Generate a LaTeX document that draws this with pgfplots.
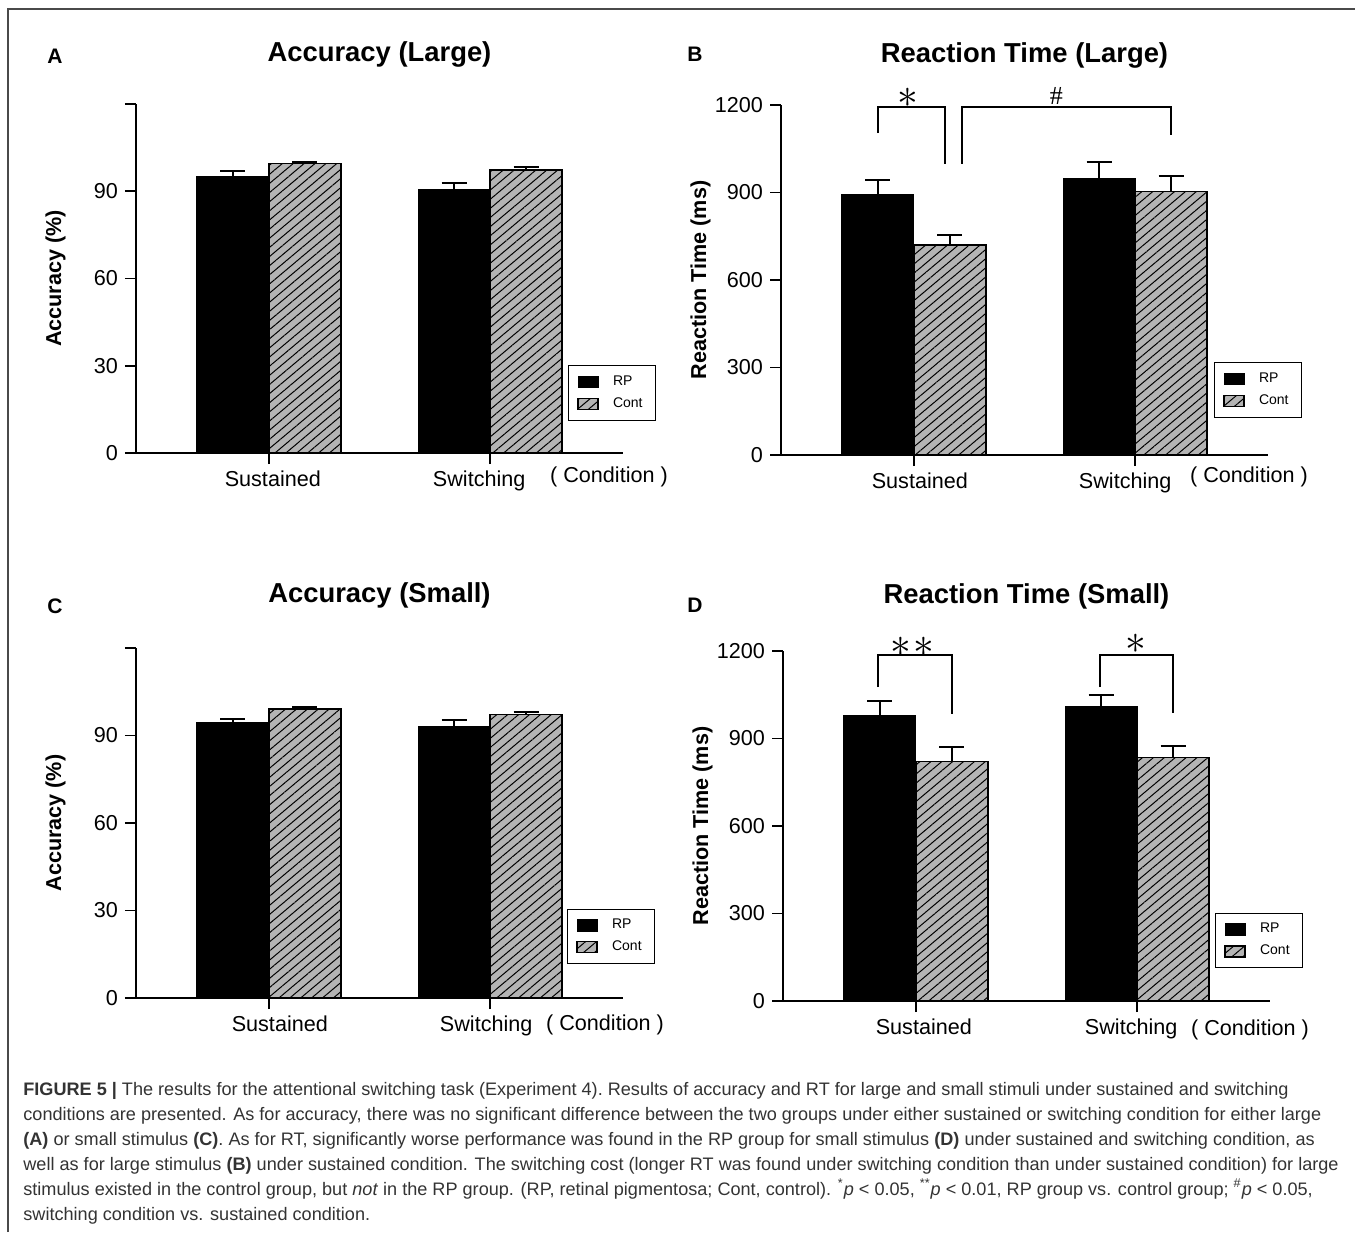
\documentclass[border=0pt]{standalone}
\usepackage{fontspec}
\setmainfont{Liberation Sans}
\newfontfamily\seriffont{Liberation Serif}
\usepackage{pgfplots}
\pgfplotsset{compat=1.18}
\usepackage{pgfplotstable}
\usetikzlibrary{patterns.meta}
\definecolor{contgray}{HTML}{B4B4B4}
\definecolor{capgray}{HTML}{333333}
\definecolor{framegray}{HTML}{4A4A4A}

\pgfplotstableread{
x RP RPe Cont Conte
0 94.9 2.0 99.5 0.55
1 90.6 2.2 97.4 1.0
}\dataA
\pgfplotstableread{
x RP RPe Cont Conte
0 892 52 721 32
1 949 57 903 53
}\dataB
\pgfplotstableread{
x RP RPe Cont Conte
0 94.5 1.3 99.0 0.7
1 93.1 2.1 97.2 0.8
}\dataC
\pgfplotstableread{
x RP RPe Cont Conte
0 980 49 821 50
1 1011 37 835 40
}\dataD

\newcommand{\bigast}{\fontsize{21}{21}\selectfont$\ast$}

\pgfplotsset{
  panel/.style={
    scale only axis, width=243.5pt, height=175pt,
    xmin=-0.6, xmax=1.6, ymin=0,
    axis x line*=bottom, axis y line*=left,
    axis line style={line width=1.3pt, -},
    axis on top,
    xtick={0,1}, tick align=outside, major tick length=5.5pt,
    tick style={line width=0.8pt, black},
    ybar=0pt, bar width=36pt,
    clip=false,
    tick label style={font=\fontsize{10.8}{12}\selectfont},
    ylabel style={at={(axis description cs:-0.165,0.5)}, anchor=center, font=\bfseries\fontsize{10.8}{12}\selectfont},
    title style={at={(axis description cs:0.5,1)}, anchor=base, font=\bfseries\fontsize{13.7}{16}\selectfont},
    legend style={anchor=south west, draw=black, line width=0.5pt, font=\fontsize{7}{8}\selectfont, inner xsep=4.5pt, inner ysep=3pt, row sep=0.5pt, cells={anchor=west},
      /tikz/every odd column/.append style={column sep=5pt}},
    legend image code/.code={\draw[#1] (0pt,-2.75pt) rectangle (10pt,2.75pt);},
    error bars/y dir=plus, error bars/y explicit,
    error bars/error bar style={line width=1pt, black},
    error bars/error mark options={rotate=90, mark size=6.25pt, line width=1pt, black},
  },
  rpbar/.style={fill=black, draw=black, line width=0.6pt},
  contbar/.style={fill=contgray, draw=black, line width=0.8pt, postaction={pattern={Lines[angle=40,distance=3.5pt,line width=0.5pt]}}},
  acc/.style={ymax=120, ytick={0,30,60,90,120}, yticklabels={0,30,60,90,{}}, ylabel={Accuracy (\%)}},
  rt/.style={ymax=1200, ytick={0,300,600,900,1200}, yticklabels={0,300,600,900,1200}, ylabel={Reaction Time (ms)}},
}

\begin{document}
\begin{tikzpicture}
\path[use as bounding box] (0pt,0pt) rectangle (677.5pt,-616pt);
\fill[white] (0pt,0pt) rectangle (677.5pt,-616pt);
\draw[framegray, line width=0.8pt] (4pt,-616pt) -- (4pt,-4.5pt) -- (677.5pt,-4.5pt);

% Panel A
\begin{axis}[panel, acc, at={(68pt,-226.5pt)}, anchor=south west, height=174.5pt,
  title={Accuracy (Large)}, title style={yshift=15.5pt},
  xticklabels={{\hspace*{4pt}Sustained},{Switching\hspace*{11pt}}},
  legend style={at={(0.887,0.092)}}]
\addplot[rpbar] table[x=x,y=RP,y error=RPe]{\dataA};
\addplot[contbar] table[x=x,y=Cont,y error=Conte]{\dataA};
\legend{RP,Cont}
\end{axis}

% Panel B
\begin{axis}[panel, rt, at={(390.5pt,-227.5pt)}, anchor=south west,
  title={Reaction Time (Large)}, title style={yshift=15.5pt},
  xticklabels={{\hspace*{6pt}Sustained},{Switching\hspace*{10pt}}},
  legend style={at={(0.889,0.106)}}]
\addplot[rpbar] table[x=x,y=RP,y error=RPe]{\dataB};
\addplot[contbar] table[x=x,y=Cont,y error=Conte]{\dataB};
\legend{RP,Cont}
\draw[line width=1pt] (axis cs:-0.162,1104) -- (axis cs:-0.162,1194) -- (axis cs:0.140,1194) -- (axis cs:0.140,998);
\draw[line width=1pt] (axis cs:0.219,998) -- (axis cs:0.219,1194) -- (axis cs:1.161,1194) -- (axis cs:1.161,1097);
\node at (axis cs:-0.027,1224) {\bigast};
\node at (axis cs:0.644,1232) {\seriffont\fontsize{13}{13}\selectfont\#};
\end{axis}

% Panel C
\begin{axis}[panel, acc, at={(68pt,-499pt)}, anchor=south west,
  title={Accuracy (Small)}, title style={yshift=17pt},
  xticklabels={{\hspace*{11pt}Sustained},{Switching\hspace*{4pt}}},
  legend style={at={(0.885,0.097)}}]
\addplot[rpbar] table[x=x,y=RP,y error=RPe]{\dataC};
\addplot[contbar] table[x=x,y=Cont,y error=Conte]{\dataC};
\legend{RP,Cont}
\end{axis}

% Panel D
\begin{axis}[panel, rt, at={(391.5pt,-500.5pt)}, anchor=south west,
  title={Reaction Time (Small)}, title style={yshift=18pt},
  xticklabels={{\hspace*{8pt}Sustained},{Switching\hspace*{6pt}}},
  legend style={at={(0.887,0.094)}}]
\addplot[rpbar] table[x=x,y=RP,y error=RPe]{\dataD};
\addplot[contbar] table[x=x,y=Cont,y error=Conte]{\dataD};
\legend{RP,Cont}
\draw[line width=1pt] (axis cs:-0.172,1076) -- (axis cs:-0.172,1186) -- (axis cs:0.163,1186) -- (axis cs:0.163,984);
\draw[line width=1pt] (axis cs:0.833,1076) -- (axis cs:0.833,1186) -- (axis cs:1.163,1186) -- (axis cs:1.163,987);
\node at (axis cs:-0.015,1214) {\bigast\hspace{1pt}\bigast};
\node at (axis cs:0.995,1225) {\bigast};
\end{axis}

% Panel letters and condition labels
\node[font=\bfseries\fontsize{10.5}{11}\selectfont] at (27.5pt,-28pt) {A};
\node[font=\bfseries\fontsize{10.5}{11}\selectfont] at (347.5pt,-27pt) {B};
\node[font=\bfseries\fontsize{10.5}{11}\selectfont] at (27.5pt,-303pt) {C};
\node[font=\bfseries\fontsize{10.5}{11}\selectfont] at (347.5pt,-302.5pt) {D};
\node[font=\fontsize{10.8}{12}\selectfont] at (304.5pt,-238.5pt) {( Condition )};
\node[font=\fontsize{10.8}{12}\selectfont] at (624.5pt,-238.5pt) {( Condition )};
\node[font=\fontsize{10.8}{12}\selectfont] at (302.5pt,-512.5pt) {( Condition )};
\node[font=\fontsize{10.8}{12}\selectfont] at (625pt,-515pt) {( Condition )};

% Caption
\node[anchor=north west, inner sep=0pt, align=left, text=capgray, font=\fontsize{9.05}{12.5}\selectfont] at (11.5pt,-541pt) {\frenchspacing%
\textbf{FIGURE 5 |} The results for the attentional switching task (Experiment 4). Results of accuracy and RT for large and small stimuli under sustained and switching\\
conditions are presented. As for accuracy, there was no significant difference between the two groups under either sustained or switching condition for either large\\
\textbf{(A)} or small stimulus \textbf{(C)}. As for RT, significantly worse performance was found in the RP group for small stimulus \textbf{(D)} under sustained and switching condition, as\\
well as for large stimulus \textbf{(B)} under sustained condition. The switching cost (longer RT was found under switching condition than under sustained condition) for large\\
stimulus existed in the control group, but \textit{not} in the RP group. (RP, retinal pigmentosa; Cont, control). \textsuperscript{*}\textit{p} < 0.05, \textsuperscript{**}\textit{p} < 0.01, RP group vs. control group; \textsuperscript{\#}\textit{p} < 0.05,\\
switching condition vs. sustained condition.};
\end{tikzpicture}
\end{document}
